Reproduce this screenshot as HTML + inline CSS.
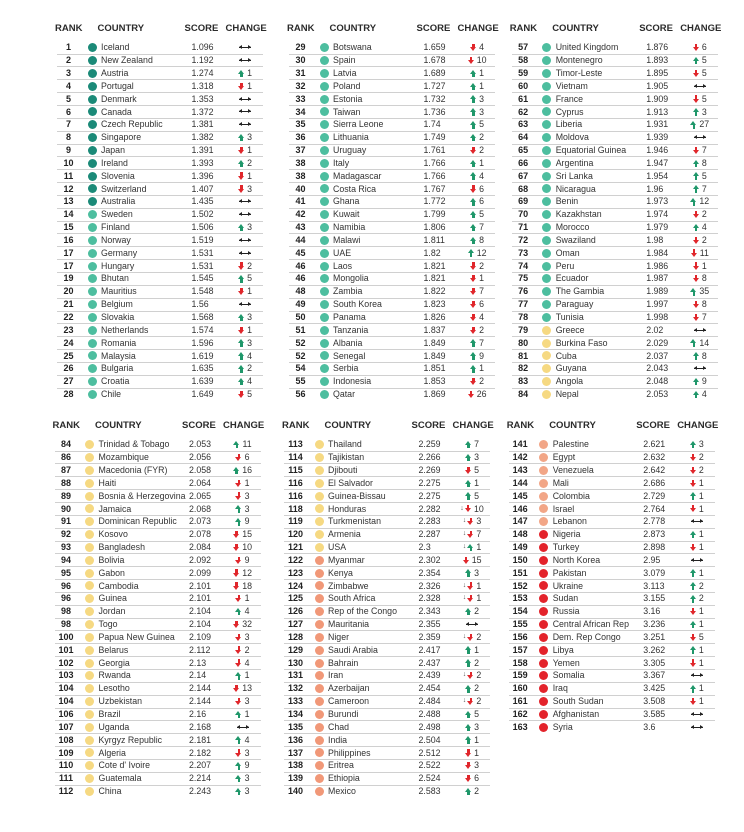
<!DOCTYPE html>
<html><head><meta charset="utf-8">
<style>
*{box-sizing:border-box}
html,body{margin:0;padding:0;background:#fff}
body{width:744px;height:832px;position:relative;overflow:hidden;font-family:"Liberation Sans",Arial,sans-serif}
.b{position:absolute;width:206px}
.h{position:relative;height:18.3px;font-weight:bold;font-size:9.5px;color:#2b2b2b;line-height:12px}
.h span{position:absolute;top:0;white-space:nowrap}
.h .h1{left:-2px}.h .h2{left:40.5px}.h .h3{left:127.5px}.h .h4{left:168.5px}
.r{position:relative;height:12.85px;margin:0;line-height:12.85px;font-size:8.8px;color:#333}
.r::before{content:"";position:absolute;left:30.8px;top:1.9px;width:9px;height:9px;border-radius:50%;background:var(--c)}
.r::after{content:"";position:absolute;left:0;right:0;bottom:-0.5px;height:1px;background:#d0d0d0}
.r:last-child::after{display:none}
.r i{position:absolute;left:0;top:0;width:23px;text-align:center;font-style:normal;font-weight:bold;font-size:9px;color:#222}
.r span{position:absolute;left:44px;top:0;white-space:nowrap}
.r em{position:absolute;left:134.5px;top:0;font-style:normal}
.r b{position:absolute;left:163px;width:50px;top:0;height:12.85px;display:flex;align-items:center;justify-content:center;font-weight:normal;gap:2.2px;color:#333}
.r small{font-size:7px;color:#555;margin-right:-1.2px;line-height:12.85px}
s{display:block;position:relative;text-decoration:none}
s.u,s.d{width:7px;height:7.5px}
s.u::before{content:"";position:absolute;left:0;top:0;border-left:3.5px solid transparent;border-right:3.5px solid transparent;border-bottom:4.2px solid #1f976a}
s.u::after{content:"";position:absolute;left:2.4px;top:4px;width:2.2px;height:3.5px;background:#1f976a}
s.d::before{content:"";position:absolute;left:0;top:3.3px;border-left:3.5px solid transparent;border-right:3.5px solid transparent;border-top:4.2px solid #e0262b}
s.d::after{content:"";position:absolute;left:2.4px;top:0;width:2.2px;height:3.5px;background:#e0262b}
s.e{width:12px;height:5px;background:linear-gradient(#222,#222) center/100% 1.2px no-repeat}
s.e::before{content:"";position:absolute;left:0;top:0;border-top:2.5px solid transparent;border-bottom:2.5px solid transparent;border-right:3.2px solid #222}
s.e::after{content:"";position:absolute;right:0;top:0;border-top:2.5px solid transparent;border-bottom:2.5px solid transparent;border-left:3.2px solid #222}
.A{--c:#1b8a78}.B{--c:#4dbe9f}.Y{--c:#f6d982}.O{--c:#f19878}.P{--c:#f2a687}.R{--c:#e3232b}
</style></head><body>

<div class="b" style="left:57px;top:23px">
<div class="h"><span class="h1">RANK</span><span class="h2">COUNTRY</span><span class="h3">SCORE</span><span class="h4">CHANGE</span></div>
<p class="r A"><i>1</i><span>Iceland</span><em>1.096</em><b><s class="e"></s></b></p>
<p class="r A"><i>2</i><span>New Zealand</span><em>1.192</em><b><s class="e"></s></b></p>
<p class="r A"><i>3</i><span>Austria</span><em>1.274</em><b><s class="u"></s>1</b></p>
<p class="r A"><i>4</i><span>Portugal</span><em>1.318</em><b><s class="d"></s>1</b></p>
<p class="r A"><i>5</i><span>Denmark</span><em>1.353</em><b><s class="e"></s></b></p>
<p class="r A"><i>6</i><span>Canada</span><em>1.372</em><b><s class="e"></s></b></p>
<p class="r A"><i>7</i><span>Czech Republic</span><em>1.381</em><b><s class="e"></s></b></p>
<p class="r A"><i>8</i><span>Singapore</span><em>1.382</em><b><s class="u"></s>3</b></p>
<p class="r A"><i>9</i><span>Japan</span><em>1.391</em><b><s class="d"></s>1</b></p>
<p class="r A"><i>10</i><span>Ireland</span><em>1.393</em><b><s class="u"></s>2</b></p>
<p class="r A"><i>11</i><span>Slovenia</span><em>1.396</em><b><s class="d"></s>1</b></p>
<p class="r A"><i>12</i><span>Switzerland</span><em>1.407</em><b><s class="d"></s>3</b></p>
<p class="r A"><i>13</i><span>Australia</span><em>1.435</em><b><s class="e"></s></b></p>
<p class="r B"><i>14</i><span>Sweden</span><em>1.502</em><b><s class="e"></s></b></p>
<p class="r B"><i>15</i><span>Finland</span><em>1.506</em><b><s class="u"></s>3</b></p>
<p class="r B"><i>16</i><span>Norway</span><em>1.519</em><b><s class="e"></s></b></p>
<p class="r B"><i>17</i><span>Germany</span><em>1.531</em><b><s class="e"></s></b></p>
<p class="r B"><i>17</i><span>Hungary</span><em>1.531</em><b><s class="d"></s>2</b></p>
<p class="r B"><i>19</i><span>Bhutan</span><em>1.545</em><b><s class="u"></s>5</b></p>
<p class="r B"><i>20</i><span>Mauritius</span><em>1.548</em><b><s class="d"></s>1</b></p>
<p class="r B"><i>21</i><span>Belgium</span><em>1.56</em><b><s class="e"></s></b></p>
<p class="r B"><i>22</i><span>Slovakia</span><em>1.568</em><b><s class="u"></s>3</b></p>
<p class="r B"><i>23</i><span>Netherlands</span><em>1.574</em><b><s class="d"></s>1</b></p>
<p class="r B"><i>24</i><span>Romania</span><em>1.596</em><b><s class="u"></s>3</b></p>
<p class="r B"><i>25</i><span>Malaysia</span><em>1.619</em><b><s class="u"></s>4</b></p>
<p class="r B"><i>26</i><span>Bulgaria</span><em>1.635</em><b><s class="u"></s>2</b></p>
<p class="r B"><i>27</i><span>Croatia</span><em>1.639</em><b><s class="u"></s>4</b></p>
<p class="r B"><i>28</i><span>Chile</span><em>1.649</em><b><s class="d"></s>5</b></p>
</div>

<div class="b" style="left:289px;top:23px">
<div class="h"><span class="h1">RANK</span><span class="h2">COUNTRY</span><span class="h3">SCORE</span><span class="h4">CHANGE</span></div>
<p class="r B"><i>29</i><span>Botswana</span><em>1.659</em><b><s class="d"></s>4</b></p>
<p class="r B"><i>30</i><span>Spain</span><em>1.678</em><b><s class="d"></s>10</b></p>
<p class="r B"><i>31</i><span>Latvia</span><em>1.689</em><b><s class="u"></s>1</b></p>
<p class="r B"><i>32</i><span>Poland</span><em>1.727</em><b><s class="u"></s>1</b></p>
<p class="r B"><i>33</i><span>Estonia</span><em>1.732</em><b><s class="u"></s>3</b></p>
<p class="r B"><i>34</i><span>Taiwan</span><em>1.736</em><b><s class="u"></s>3</b></p>
<p class="r B"><i>35</i><span>Sierra Leone</span><em>1.74</em><b><s class="u"></s>5</b></p>
<p class="r B"><i>36</i><span>Lithuania</span><em>1.749</em><b><s class="u"></s>2</b></p>
<p class="r B"><i>37</i><span>Uruguay</span><em>1.761</em><b><s class="d"></s>2</b></p>
<p class="r B"><i>38</i><span>Italy</span><em>1.766</em><b><s class="u"></s>1</b></p>
<p class="r B"><i>38</i><span>Madagascar</span><em>1.766</em><b><s class="u"></s>4</b></p>
<p class="r B"><i>40</i><span>Costa Rica</span><em>1.767</em><b><s class="d"></s>6</b></p>
<p class="r B"><i>41</i><span>Ghana</span><em>1.772</em><b><s class="u"></s>6</b></p>
<p class="r B"><i>42</i><span>Kuwait</span><em>1.799</em><b><s class="u"></s>5</b></p>
<p class="r B"><i>43</i><span>Namibia</span><em>1.806</em><b><s class="u"></s>7</b></p>
<p class="r B"><i>44</i><span>Malawi</span><em>1.811</em><b><s class="u"></s>8</b></p>
<p class="r B"><i>45</i><span>UAE</span><em>1.82</em><b><s class="u"></s>12</b></p>
<p class="r B"><i>46</i><span>Laos</span><em>1.821</em><b><s class="d"></s>2</b></p>
<p class="r B"><i>46</i><span>Mongolia</span><em>1.821</em><b><s class="d"></s>1</b></p>
<p class="r B"><i>48</i><span>Zambia</span><em>1.822</em><b><s class="d"></s>7</b></p>
<p class="r B"><i>49</i><span>South Korea</span><em>1.823</em><b><s class="d"></s>6</b></p>
<p class="r B"><i>50</i><span>Panama</span><em>1.826</em><b><s class="d"></s>4</b></p>
<p class="r B"><i>51</i><span>Tanzania</span><em>1.837</em><b><s class="d"></s>2</b></p>
<p class="r B"><i>52</i><span>Albania</span><em>1.849</em><b><s class="u"></s>7</b></p>
<p class="r B"><i>52</i><span>Senegal</span><em>1.849</em><b><s class="u"></s>9</b></p>
<p class="r B"><i>54</i><span>Serbia</span><em>1.851</em><b><s class="u"></s>1</b></p>
<p class="r B"><i>55</i><span>Indonesia</span><em>1.853</em><b><s class="d"></s>2</b></p>
<p class="r B"><i>56</i><span>Qatar</span><em>1.869</em><b><s class="d"></s>26</b></p>
</div>

<div class="b" style="left:511.7px;top:23px">
<div class="h"><span class="h1">RANK</span><span class="h2">COUNTRY</span><span class="h3">SCORE</span><span class="h4">CHANGE</span></div>
<p class="r B"><i>57</i><span>United Kingdom</span><em>1.876</em><b><s class="d"></s>6</b></p>
<p class="r B"><i>58</i><span>Montenegro</span><em>1.893</em><b><s class="u"></s>5</b></p>
<p class="r B"><i>59</i><span>Timor-Leste</span><em>1.895</em><b><s class="d"></s>5</b></p>
<p class="r B"><i>60</i><span>Vietnam</span><em>1.905</em><b><s class="e"></s></b></p>
<p class="r B"><i>61</i><span>France</span><em>1.909</em><b><s class="d"></s>5</b></p>
<p class="r B"><i>62</i><span>Cyprus</span><em>1.913</em><b><s class="u"></s>3</b></p>
<p class="r B"><i>63</i><span>Liberia</span><em>1.931</em><b><s class="u"></s>27</b></p>
<p class="r B"><i>64</i><span>Moldova</span><em>1.939</em><b><s class="e"></s></b></p>
<p class="r B"><i>65</i><span>Equatorial Guinea</span><em>1.946</em><b><s class="d"></s>7</b></p>
<p class="r B"><i>66</i><span>Argentina</span><em>1.947</em><b><s class="u"></s>8</b></p>
<p class="r B"><i>67</i><span>Sri Lanka</span><em>1.954</em><b><s class="u"></s>5</b></p>
<p class="r B"><i>68</i><span>Nicaragua</span><em>1.96</em><b><s class="u"></s>7</b></p>
<p class="r B"><i>69</i><span>Benin</span><em>1.973</em><b><s class="u"></s>12</b></p>
<p class="r B"><i>70</i><span>Kazakhstan</span><em>1.974</em><b><s class="d"></s>2</b></p>
<p class="r B"><i>71</i><span>Morocco</span><em>1.979</em><b><s class="u"></s>4</b></p>
<p class="r B"><i>72</i><span>Swaziland</span><em>1.98</em><b><s class="d"></s>2</b></p>
<p class="r B"><i>73</i><span>Oman</span><em>1.984</em><b><s class="d"></s>11</b></p>
<p class="r B"><i>74</i><span>Peru</span><em>1.986</em><b><s class="d"></s>1</b></p>
<p class="r B"><i>75</i><span>Ecuador</span><em>1.987</em><b><s class="d"></s>8</b></p>
<p class="r B"><i>76</i><span>The Gambia</span><em>1.989</em><b><s class="u"></s>35</b></p>
<p class="r B"><i>77</i><span>Paraguay</span><em>1.997</em><b><s class="d"></s>8</b></p>
<p class="r B"><i>78</i><span>Tunisia</span><em>1.998</em><b><s class="d"></s>7</b></p>
<p class="r Y"><i>79</i><span>Greece</span><em>2.02</em><b><s class="e"></s></b></p>
<p class="r Y"><i>80</i><span>Burkina Faso</span><em>2.029</em><b><s class="u"></s>14</b></p>
<p class="r Y"><i>81</i><span>Cuba</span><em>2.037</em><b><s class="u"></s>8</b></p>
<p class="r Y"><i>82</i><span>Guyana</span><em>2.043</em><b><s class="e"></s></b></p>
<p class="r Y"><i>83</i><span>Angola</span><em>2.048</em><b><s class="u"></s>9</b></p>
<p class="r Y"><i>84</i><span>Nepal</span><em>2.053</em><b><s class="u"></s>4</b></p>
</div>

<div class="b" style="left:54.5px;top:420px">
<div class="h"><span class="h1">RANK</span><span class="h2">COUNTRY</span><span class="h3">SCORE</span><span class="h4">CHANGE</span></div>
<p class="r Y"><i>84</i><span>Trinidad &amp; Tobago</span><em>2.053</em><b><s class="u"></s>11</b></p>
<p class="r Y"><i>86</i><span>Mozambique</span><em>2.056</em><b><s class="d"></s>6</b></p>
<p class="r Y"><i>87</i><span>Macedonia (FYR)</span><em>2.058</em><b><s class="u"></s>16</b></p>
<p class="r Y"><i>88</i><span>Haiti</span><em>2.064</em><b><s class="d"></s>1</b></p>
<p class="r Y"><i>89</i><span>Bosnia &amp; Herzegovina</span><em>2.065</em><b><s class="d"></s>3</b></p>
<p class="r Y"><i>90</i><span>Jamaica</span><em>2.068</em><b><s class="u"></s>3</b></p>
<p class="r Y"><i>91</i><span>Dominican Republic</span><em>2.073</em><b><s class="u"></s>9</b></p>
<p class="r Y"><i>92</i><span>Kosovo</span><em>2.078</em><b><s class="d"></s>15</b></p>
<p class="r Y"><i>93</i><span>Bangladesh</span><em>2.084</em><b><s class="d"></s>10</b></p>
<p class="r Y"><i>94</i><span>Bolivia</span><em>2.092</em><b><s class="d"></s>9</b></p>
<p class="r Y"><i>95</i><span>Gabon</span><em>2.099</em><b><s class="d"></s>12</b></p>
<p class="r Y"><i>96</i><span>Cambodia</span><em>2.101</em><b><s class="d"></s>18</b></p>
<p class="r Y"><i>96</i><span>Guinea</span><em>2.101</em><b><s class="d"></s>1</b></p>
<p class="r Y"><i>98</i><span>Jordan</span><em>2.104</em><b><s class="u"></s>4</b></p>
<p class="r Y"><i>98</i><span>Togo</span><em>2.104</em><b><s class="d"></s>32</b></p>
<p class="r Y"><i>100</i><span>Papua New Guinea</span><em>2.109</em><b><s class="d"></s>3</b></p>
<p class="r Y"><i>101</i><span>Belarus</span><em>2.112</em><b><s class="d"></s>2</b></p>
<p class="r Y"><i>102</i><span>Georgia</span><em>2.13</em><b><s class="d"></s>4</b></p>
<p class="r Y"><i>103</i><span>Rwanda</span><em>2.14</em><b><s class="u"></s>1</b></p>
<p class="r Y"><i>104</i><span>Lesotho</span><em>2.144</em><b><s class="d"></s>13</b></p>
<p class="r Y"><i>104</i><span>Uzbekistan</span><em>2.144</em><b><s class="d"></s>3</b></p>
<p class="r Y"><i>106</i><span>Brazil</span><em>2.16</em><b><s class="u"></s>1</b></p>
<p class="r Y"><i>107</i><span>Uganda</span><em>2.168</em><b><s class="e"></s></b></p>
<p class="r Y"><i>108</i><span>Kyrgyz Republic</span><em>2.181</em><b><s class="u"></s>4</b></p>
<p class="r Y"><i>109</i><span>Algeria</span><em>2.182</em><b><s class="d"></s>3</b></p>
<p class="r Y"><i>110</i><span>Cote d' Ivoire</span><em>2.207</em><b><s class="u"></s>9</b></p>
<p class="r Y"><i>111</i><span>Guatemala</span><em>2.214</em><b><s class="u"></s>3</b></p>
<p class="r Y"><i>112</i><span>China</span><em>2.243</em><b><s class="u"></s>3</b></p>
</div>

<div class="b" style="left:284px;top:420px">
<div class="h"><span class="h1">RANK</span><span class="h2">COUNTRY</span><span class="h3">SCORE</span><span class="h4">CHANGE</span></div>
<p class="r Y"><i>113</i><span>Thailand</span><em>2.259</em><b><s class="u"></s>7</b></p>
<p class="r Y"><i>114</i><span>Tajikistan</span><em>2.266</em><b><s class="u"></s>3</b></p>
<p class="r Y"><i>115</i><span>Djibouti</span><em>2.269</em><b><s class="d"></s>5</b></p>
<p class="r Y"><i>116</i><span>El Salvador</span><em>2.275</em><b><s class="u"></s>1</b></p>
<p class="r Y"><i>116</i><span>Guinea-Bissau</span><em>2.275</em><b><s class="u"></s>5</b></p>
<p class="r Y"><i>118</i><span>Honduras</span><em>2.282</em><b><small>↓</small><s class="d"></s>10</b></p>
<p class="r Y"><i>119</i><span>Turkmenistan</span><em>2.283</em><b><small>↓</small><s class="d"></s>3</b></p>
<p class="r Y"><i>120</i><span>Armenia</span><em>2.287</em><b><small>↓</small><s class="d"></s>7</b></p>
<p class="r Y"><i>121</i><span>USA</span><em>2.3</em><b><small>↓</small><s class="u"></s>1</b></p>
<p class="r O"><i>122</i><span>Myanmar</span><em>2.302</em><b><s class="d"></s>15</b></p>
<p class="r O"><i>123</i><span>Kenya</span><em>2.354</em><b><s class="u"></s>3</b></p>
<p class="r O"><i>124</i><span>Zimbabwe</span><em>2.326</em><b><small>↓</small><s class="d"></s>1</b></p>
<p class="r O"><i>125</i><span>South Africa</span><em>2.328</em><b><small>↓</small><s class="d"></s>1</b></p>
<p class="r O"><i>126</i><span>Rep of the Congo</span><em>2.343</em><b><s class="u"></s>2</b></p>
<p class="r O"><i>127</i><span>Mauritania</span><em>2.355</em><b><s class="e"></s></b></p>
<p class="r O"><i>128</i><span>Niger</span><em>2.359</em><b><small>↓</small><s class="d"></s>2</b></p>
<p class="r O"><i>129</i><span>Saudi Arabia</span><em>2.417</em><b><s class="u"></s>1</b></p>
<p class="r O"><i>130</i><span>Bahrain</span><em>2.437</em><b><s class="u"></s>2</b></p>
<p class="r O"><i>131</i><span>Iran</span><em>2.439</em><b><small>↓</small><s class="d"></s>2</b></p>
<p class="r O"><i>132</i><span>Azerbaijan</span><em>2.454</em><b><s class="u"></s>2</b></p>
<p class="r O"><i>133</i><span>Cameroon</span><em>2.484</em><b><small>↓</small><s class="d"></s>2</b></p>
<p class="r O"><i>134</i><span>Burundi</span><em>2.488</em><b><s class="u"></s>5</b></p>
<p class="r O"><i>135</i><span>Chad</span><em>2.498</em><b><s class="u"></s>3</b></p>
<p class="r O"><i>136</i><span>India</span><em>2.504</em><b><s class="u"></s>1</b></p>
<p class="r O"><i>137</i><span>Philippines</span><em>2.512</em><b><s class="d"></s>1</b></p>
<p class="r O"><i>138</i><span>Eritrea</span><em>2.522</em><b><s class="d"></s>3</b></p>
<p class="r O"><i>139</i><span>Ethiopia</span><em>2.524</em><b><s class="d"></s>6</b></p>
<p class="r O"><i>140</i><span>Mexico</span><em>2.583</em><b><s class="u"></s>2</b></p>
</div>

<div class="b" style="left:508.7px;top:420px">
<div class="h"><span class="h1">RANK</span><span class="h2">COUNTRY</span><span class="h3">SCORE</span><span class="h4">CHANGE</span></div>
<p class="r P"><i>141</i><span>Palestine</span><em>2.621</em><b><s class="u"></s>3</b></p>
<p class="r P"><i>142</i><span>Egypt</span><em>2.632</em><b><s class="d"></s>2</b></p>
<p class="r P"><i>143</i><span>Venezuela</span><em>2.642</em><b><s class="d"></s>2</b></p>
<p class="r P"><i>144</i><span>Mali</span><em>2.686</em><b><s class="d"></s>1</b></p>
<p class="r P"><i>145</i><span>Colombia</span><em>2.729</em><b><s class="u"></s>1</b></p>
<p class="r P"><i>146</i><span>Israel</span><em>2.764</em><b><s class="d"></s>1</b></p>
<p class="r P"><i>147</i><span>Lebanon</span><em>2.778</em><b><s class="e"></s></b></p>
<p class="r R"><i>148</i><span>Nigeria</span><em>2.873</em><b><s class="u"></s>1</b></p>
<p class="r R"><i>149</i><span>Turkey</span><em>2.898</em><b><s class="d"></s>1</b></p>
<p class="r R"><i>150</i><span>North Korea</span><em>2.95</em><b><s class="e"></s></b></p>
<p class="r R"><i>151</i><span>Pakistan</span><em>3.079</em><b><s class="u"></s>1</b></p>
<p class="r R"><i>152</i><span>Ukraine</span><em>3.113</em><b><s class="u"></s>2</b></p>
<p class="r R"><i>153</i><span>Sudan</span><em>3.155</em><b><s class="u"></s>2</b></p>
<p class="r R"><i>154</i><span>Russia</span><em>3.16</em><b><s class="d"></s>1</b></p>
<p class="r R"><i>155</i><span>Central African Rep</span><em>3.236</em><b><s class="u"></s>1</b></p>
<p class="r R"><i>156</i><span>Dem. Rep Congo</span><em>3.251</em><b><s class="d"></s>5</b></p>
<p class="r R"><i>157</i><span>Libya</span><em>3.262</em><b><s class="u"></s>1</b></p>
<p class="r R"><i>158</i><span>Yemen</span><em>3.305</em><b><s class="d"></s>1</b></p>
<p class="r R"><i>159</i><span>Somalia</span><em>3.367</em><b><s class="e"></s></b></p>
<p class="r R"><i>160</i><span>Iraq</span><em>3.425</em><b><s class="u"></s>1</b></p>
<p class="r R"><i>161</i><span>South Sudan</span><em>3.508</em><b><s class="d"></s>1</b></p>
<p class="r R"><i>162</i><span>Afghanistan</span><em>3.585</em><b><s class="e"></s></b></p>
<p class="r R"><i>163</i><span>Syria</span><em>3.6</em><b><s class="e"></s></b></p>
</div>

</body></html>
